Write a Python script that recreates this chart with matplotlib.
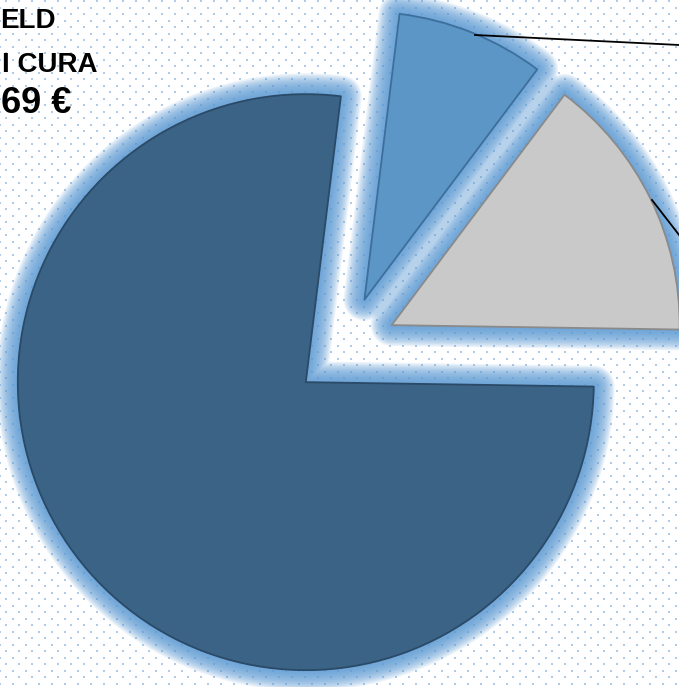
import numpy as np
import matplotlib.pyplot as plt
import matplotlib.patheffects as pe

# slice shares (clockwise from the top, as in the original)
slice_names = ['blu', 'grigio', 'scuro']
shares = [8.3, 15.0, 76.7]
slice_colors = ['#5b96c6', '#c9c9c9', '#3b6385']
edge_colors = ['#3d6f9c', '#8a8a8a', '#2a4a68']

# visible parts of the cropped title text
title_lines = ['ELD', 'I CURA', '69 €']

W, H = 679, 687
fig = plt.figure(figsize=(W / 100, H / 100), dpi=100)
ax = fig.add_axes([0, 0, 1, 1])
ax.set_aspect('equal')

# dotted background (staggered grid)
rows = np.arange(-6.5, H + 7, 6.5)
pts_x, pts_y = [], []
for i, r in enumerate(rows):
    off = 0 if i % 2 == 0 else 6.5
    xs = np.arange(-0.3 + off, W + 13, 13)
    pts_x.extend(xs)
    pts_y.extend([H - (1.0 + r)] * len(xs))
ax.scatter(pts_x, pts_y, s=1.5, marker='s', color='#aecbe9', lw=0, zorder=0)

glow = [pe.Stroke(linewidth=w, foreground='#5b9bd5', alpha=0.12) for w in range(30, 1, -2)]
glow.append(pe.Normal())

wedges, _ = ax.pie(shares, colors=slice_colors, startangle=83, counterclock=False,
                   center=(345, H - 348), radius=288, explode=[52, 52, 52],
                   frame=True, wedgeprops=dict(linewidth=1.3, joinstyle='round'))
for w, ec in zip(wedges, edge_colors):
    w.set_edgecolor(ec)
    w.set_path_effects(glow)
    w.set_zorder(2)
ax.set_xlim(0, W)
ax.set_ylim(0, H)
ax.axis('off')

# leader lines to labels outside the crop
ax.plot([475, 700], [H - 35, H - 46], color='black', lw=1.3, zorder=3, clip_on=False)
ax.plot([652, 700], [H - 200, H - 262], color='black', lw=1.3, zorder=3, clip_on=False)

fig.text(56 / W, 1 - 28 / H, title_lines[0], ha='right', va='baseline',
         fontsize=20, fontweight='bold', family='Liberation Sans')
fig.text(98 / W, 1 - 72 / H, title_lines[1], ha='right', va='baseline',
         fontsize=20, fontweight='bold', family='Liberation Sans')
fig.text(71 / W, 1 - 113 / H, title_lines[2], ha='right', va='baseline',
         fontsize=26, fontweight='bold', family='Liberation Sans')

fig.savefig('out.png', dpi=100, facecolor='white')
